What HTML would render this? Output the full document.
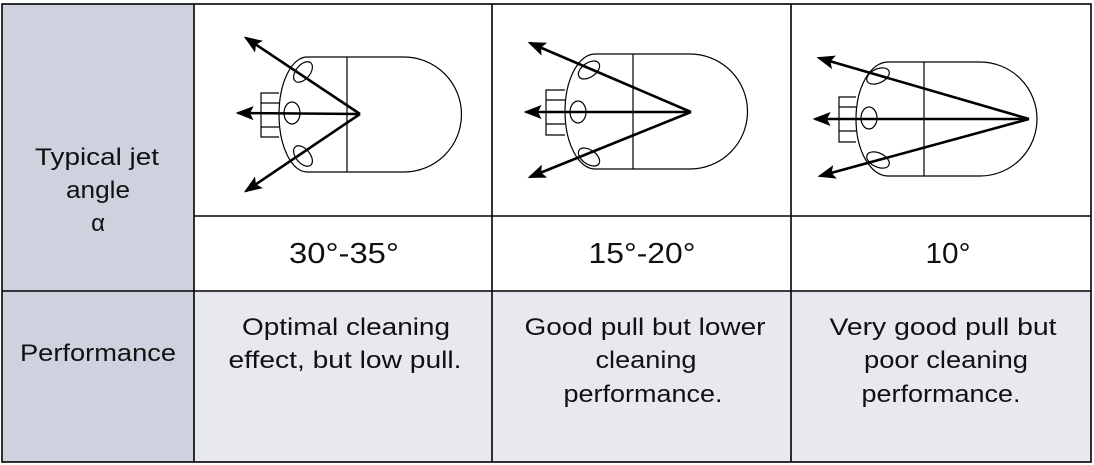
<!DOCTYPE html>
<html><head><meta charset="utf-8"><style>
html,body{margin:0;padding:0;background:#fff;}
svg{display:block;}
text{font-family:"Liberation Sans",Arial,sans-serif;fill:#111;}
</style></head><body>
<svg width="1094" height="465" viewBox="0 0 1094 465" xmlns="http://www.w3.org/2000/svg">
<defs>
<marker id="ah" markerWidth="7" markerHeight="7" refX="6" refY="3.5" orient="auto" markerUnits="strokeWidth">
<path d="M0,0.8 L7,3.5 L0,6.2 L1.4,3.5 Z" fill="#000"/>
</marker>
</defs>
<rect x="2" y="4" width="192" height="458" fill="#cdd2de"/>
<rect x="194" y="291" width="897" height="171" fill="#e7e9ee"/>
<g stroke="#000" stroke-width="1.6" fill="none">
<rect x="2" y="4" width="1089" height="458"/>
<line x1="194" y1="4" x2="194" y2="462"/>
<line x1="492" y1="4" x2="492" y2="462"/>
<line x1="791" y1="4" x2="791" y2="462"/>
<line x1="194" y1="216" x2="1091" y2="216"/>
<line x1="2" y1="291" x2="1091" y2="291"/>
</g>

<!-- nozzle 1 -->
<g stroke="#000" stroke-width="1.2" fill="none">
<path d="M307,57 L404,57 A57.5,57.5 0 0 1 404,172 L307,172 A28,57.5 0 0 1 307,57 Z"/>
<line x1="347" y1="57" x2="347" y2="172"/>
<path d="M279,93 L261,93 L261,137 L279,137"/>
<line x1="261" y1="103" x2="279" y2="103"/><line x1="261" y1="127" x2="279" y2="127"/>
<ellipse cx="303" cy="72" rx="7" ry="12" transform="rotate(40 303 72)"/>
<ellipse cx="292" cy="113" rx="8" ry="11"/>
<ellipse cx="303" cy="156" rx="7" ry="12" transform="rotate(-40 303 156)"/>
</g>
<g stroke="#000" stroke-width="2.6" fill="none">
<line x1="360" y1="114" x2="246" y2="38" marker-end="url(#ah)"/>
<line x1="360" y1="114" x2="238" y2="113" marker-end="url(#ah)"/>
<line x1="360" y1="114" x2="246" y2="191" marker-end="url(#ah)"/>
</g>

<!-- nozzle 2 -->
<g stroke="#000" stroke-width="1.2" fill="none">
<path d="M595,54 L690,54 A57.5,57.5 0 0 1 690,169 L595,169 A30,57.5 0 0 1 595,54 Z"/>
<line x1="633" y1="54" x2="633" y2="169"/>
<path d="M565,90 L546,90 L546,135 L565,135"/>
<line x1="546" y1="100" x2="565" y2="100"/><line x1="546" y1="124" x2="565" y2="124"/>
<ellipse cx="589" cy="70" rx="7" ry="12" transform="rotate(55 589 70)"/>
<ellipse cx="578" cy="112" rx="8" ry="11"/>
<ellipse cx="589" cy="157" rx="7" ry="12" transform="rotate(-55 589 157)"/>
</g>
<g stroke="#000" stroke-width="2.6" fill="none">
<line x1="691" y1="112" x2="530" y2="43" marker-end="url(#ah)"/>
<line x1="691" y1="112" x2="526" y2="112" marker-end="url(#ah)"/>
<line x1="691" y1="112" x2="530" y2="177" marker-end="url(#ah)"/>
</g>

<!-- nozzle 3 -->
<g stroke="#000" stroke-width="1.2" fill="none">
<path d="M888,62 L980,62 A57,57 0 0 1 980,176 L888,176 A32,57 0 0 1 888,62 Z"/>
<line x1="924" y1="62" x2="924" y2="176"/>
<path d="M856,97 L839,97 L839,142 L856,142"/>
<line x1="839" y1="107" x2="856" y2="107"/><line x1="839" y1="131" x2="856" y2="131"/>
<ellipse cx="878" cy="76" rx="7" ry="12" transform="rotate(65 878 76)"/>
<ellipse cx="869" cy="118" rx="8" ry="11"/>
<ellipse cx="878" cy="160" rx="7" ry="12" transform="rotate(-65 878 160)"/>
</g>
<g stroke="#000" stroke-width="2.6" fill="none">
<line x1="1029" y1="119" x2="819" y2="58" marker-end="url(#ah)"/>
<line x1="1029" y1="119" x2="815" y2="119" marker-end="url(#ah)"/>
<line x1="1029" y1="119" x2="820" y2="176" marker-end="url(#ah)"/>
</g>

<g font-size="24" text-anchor="middle">
<text x="97" y="165" textLength="124" lengthAdjust="spacingAndGlyphs">Typical jet</text>
<text x="98" y="198" textLength="64" lengthAdjust="spacingAndGlyphs">angle</text>
<text x="98" y="231">α</text>
<text x="98" y="361" textLength="156" lengthAdjust="spacingAndGlyphs">Performance</text>
</g>
<g font-size="29" text-anchor="middle">
<text x="344" y="263" textLength="110" lengthAdjust="spacingAndGlyphs">30°-35°</text>
<text x="642" y="263" textLength="107" lengthAdjust="spacingAndGlyphs">15°-20°</text>
<text x="948" y="263" textLength="45" lengthAdjust="spacingAndGlyphs">10°</text>
</g>
<g font-size="24" text-anchor="middle">
<text x="346" y="335" textLength="208" lengthAdjust="spacingAndGlyphs">Optimal cleaning</text>
<text x="345" y="368" textLength="233" lengthAdjust="spacingAndGlyphs">effect, but low pull.</text>
<text x="645" y="335" textLength="241" lengthAdjust="spacingAndGlyphs">Good pull but lower</text>
<text x="646" y="368" textLength="101" lengthAdjust="spacingAndGlyphs">cleaning</text>
<text x="643" y="402" textLength="159" lengthAdjust="spacingAndGlyphs">performance.</text>
<text x="943" y="335" textLength="227" lengthAdjust="spacingAndGlyphs">Very good pull but</text>
<text x="946" y="368" textLength="164" lengthAdjust="spacingAndGlyphs">poor cleaning</text>
<text x="941" y="402" textLength="159" lengthAdjust="spacingAndGlyphs">performance.</text>
</g>
</svg>
</body></html>
